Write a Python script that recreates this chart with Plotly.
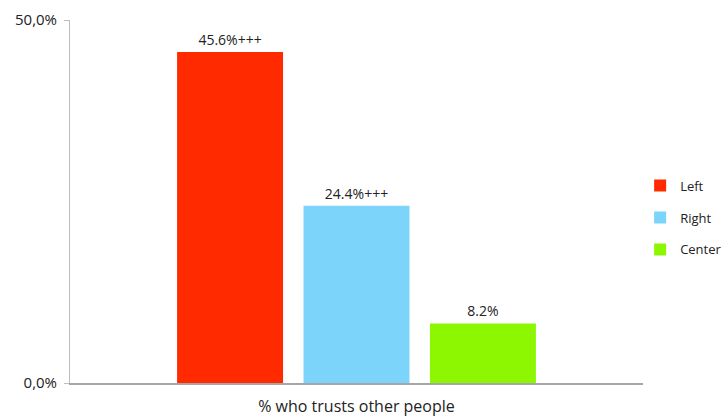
import plotly.graph_objects as go

category = ["% who trusts other people"]
series_names = ["Left", "Right", "Center"]
series_values = [0.456, 0.244, 0.082]
series_labels = ["45.6%+++", "24.4%+++", "8.2%"]
series_colors = ["#ff2a00", "#7dd4fb", "#8cf700"]

fig = go.Figure()
for name, val, lab, col in zip(series_names, series_values, series_labels, series_colors):
    fig.add_trace(go.Bar(
        x=category, y=[val], name=name, legendgroup=name,
        marker=dict(color=col, line=dict(width=0)),
        text=[lab], textposition="outside", cliponaxis=False,
        textfont=dict(size=14, color="#222"),
    ))

fig.update_layout(
    width=725, height=419,
    margin=dict(l=70, r=82, t=20, b=36, autoexpand=False),
    paper_bgcolor="white", plot_bgcolor="white",
    font=dict(family="Open Sans", size=14, color="#222"),
    separators=",.",
    barmode="group", bargap=0.338, bargroupgap=0.162,
    showlegend=True,
    legend=dict(x=0.995, y=0.585, xanchor="left", yanchor="top",
                tracegroupgap=12, font=dict(size=13),
                itemwidth=30, bgcolor="rgba(0,0,0,0)"),
)
fig.update_xaxes(showline=True, linecolor="#a6a6a6", linewidth=2,
                 ticks="", tickfont=dict(size=16), showgrid=False,
                 ticklabelstandoff=8)
fig.update_yaxes(range=[0, 0.5], tickvals=[0, 0.5], tickformat=".1%",
                 showline=True, linecolor="#bdbdbd", linewidth=1,
                 ticks="outside", ticklen=5, tickcolor="#bdbdbd",
                 gridcolor="#bdbdbd", gridwidth=1, zeroline=False,
                 tickfont=dict(size=15), ticklabelstandoff=4)

fig.write_html("out.html")
